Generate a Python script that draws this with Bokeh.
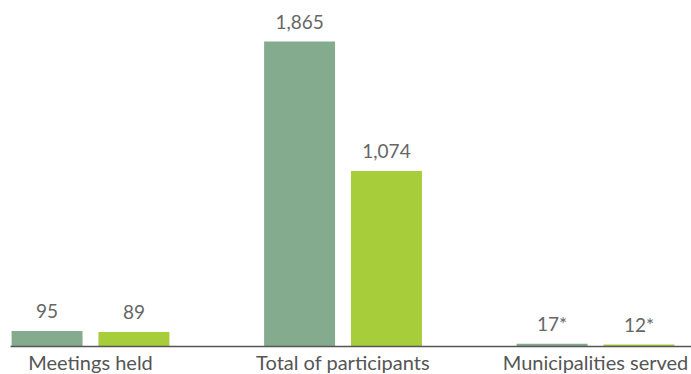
from bokeh.plotting import figure
from bokeh.models import Range1d, ColumnDataSource
from bokeh.core.properties import value
from bokeh.embed import file_html
from bokeh.resources import INLINE

categories = ["Meetings held", "Total of participants", "Municipalities served"]
series_a = [95, 1865, 17]
series_b = [89, 1074, 12]
labels_a = ["95", "1,865", "17*"]
labels_b = ["89", "1,074", "12*"]

color_a = "#84ab8d"
color_b = "#a7cd3a"

idx = list(range(len(categories)))
off = 0.172
bw = 0.281

src_a = ColumnDataSource(dict(x=[i - off for i in idx], top=series_a, lab=labels_a))
src_b = ColumnDataSource(dict(x=[i + off for i in idx], top=series_b, lab=labels_b))
src_c = ColumnDataSource(dict(x=[i + 0.0 for i in idx], y=[0] * len(idx), lab=categories))

p = figure(width=691, height=374, output_backend="svg", toolbar_location=None,
           x_range=Range1d(-0.3564, 2.380), y_range=Range1d(-171, 2116),
           min_border=0, outline_line_color=None)
p.axis.visible = False
p.grid.visible = False
p.background_fill_color = "white"
p.border_fill_color = "white"

p.vbar(x="x", top="top", bottom=0, width=bw, source=src_a, color=color_a, line_color=None)
p.vbar(x="x", top="top", bottom=0, width=bw, source=src_b, color=color_b, line_color=None)

p.segment(x0=[-0.3168], x1=[2.380], y0=[0], y1=[0], line_color="#555555", line_width=1.5)

for s in (src_a, src_b):
    p.text(x="x", y="top", text="lab", source=s, text_align="center", text_baseline="alphabetic",
           y_offset=-20, text_font=value("Lato"), text_font_size="19px", text_color="#666666")

p.text(x="x", y="y", text="lab", source=src_c, text_align="center", text_baseline="top",
       y_offset=3, text_font=value("Lato"), text_font_size="20px", text_color="#555555")

open("out.html", "w").write(file_html(p, INLINE))
